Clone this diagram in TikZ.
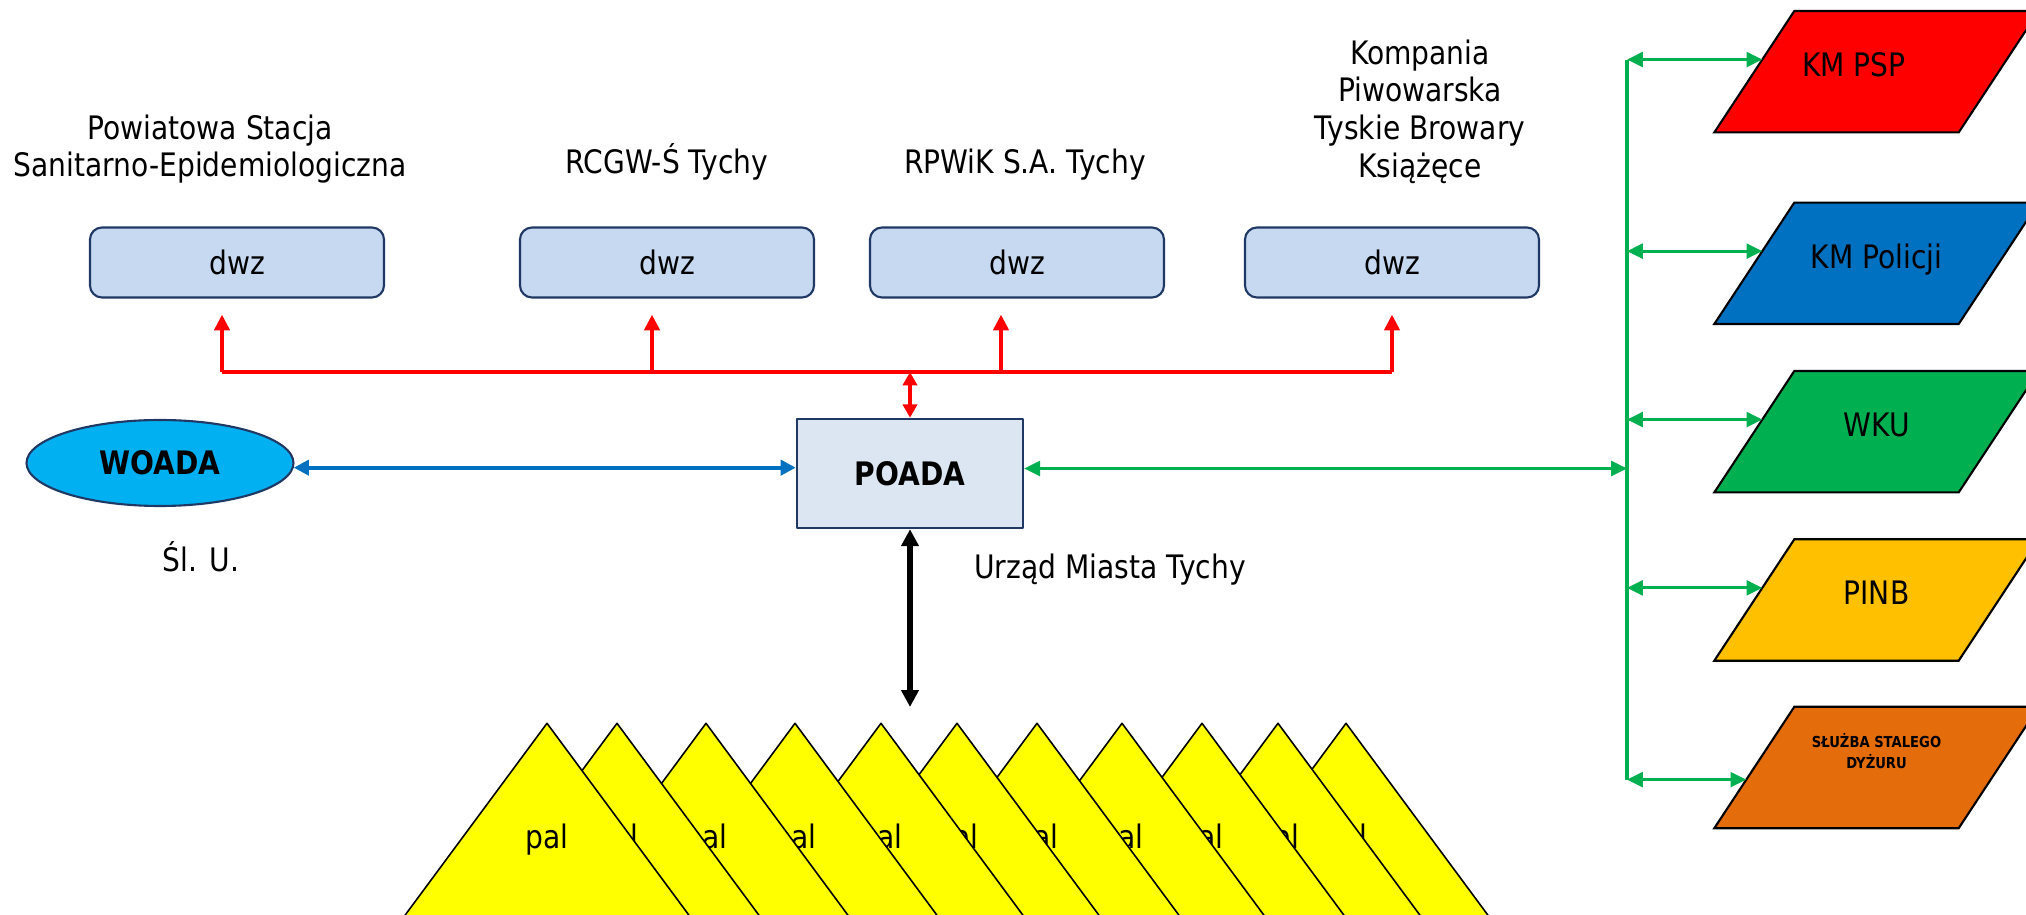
\documentclass[tikz,border=0pt]{standalone}
\usepackage{fontspec}
\setmainfont{DejaVu Sans}[FakeStretch=0.87]
\usetikzlibrary{arrows.meta}
\usetikzlibrary{shapes.geometric}
\usetikzlibrary{calc}
\usetikzlibrary{backgrounds}

\definecolor{dwzfill}{HTML}{C6D9F1}
\definecolor{poadafill}{HTML}{DCE6F2}
\definecolor{navy}{HTML}{1F3864}
\definecolor{woadafill}{HTML}{00B0F0}
\definecolor{linkblue}{HTML}{0070C0}
\definecolor{linkgreen}{HTML}{00B050}
\definecolor{pinbfill}{HTML}{FFC000}
\definecolor{ssdfill}{HTML}{E46C0A}
\definecolor{palfill}{HTML}{FFFF00}

\tikzset{
  dwzbox/.style={draw=navy,line width=0.6pt,fill=dwzfill,rounded corners=1.2mm,
    minimum width=2.94cm,minimum height=0.70cm},
  instbox/.style={inner sep=0pt,minimum width=2.43cm,minimum height=1.2cm},
  insttext/.style={text height=2.4mm,text depth=1.4mm},
  lbl/.style={align=center},
  redlink/.style={draw=red,line width=1.15pt},
  greenlink/.style={draw=linkgreen,line width=0.9pt,
    {Triangle[length=4.5pt,width=4.2pt]}-{Triangle[length=4.5pt,width=4.2pt]}},
  palside/.style={fill=palfill,draw=black,line width=0.45pt}
}

\begin{document}
\begin{tikzpicture}[line join=round,x=1.0cm,y=1.0cm,
    font=\fontsize{9.2pt}{10.7pt}\selectfont]
  \useasboundingbox (0,0) rectangle (20.26,9.15);

  % pal triangles, the left one in front
  \begin{scope}
    \clip (0,0) rectangle (20.26,9.15);
    \foreach \px [count=\i] in {13.46,12.78,12.02,11.22,10.37,9.57,8.81,7.95,7.06,6.17,5.47} {
      \filldraw[palside] (\px,1.917) -- ++(-1.79,-2.42) -- ++(3.58,0) -- cycle;
      \node (pal\i) at (\px,0.75) {pal};
    }
  \end{scope}

  % upper row
  \node[lbl] (pss) at (2.10,7.66) {Powiatowa Stacja\\Sanitarno-Epidemiologiczna};
  \node[lbl] (rcgw) at (6.67,7.53) {RCGW-Ś Tychy};
  \node[lbl] (rpwik) at (10.25,7.50) {RPWiK S.A. Tychy};
  \node[lbl] (kp) at (14.20,8.035) {Kompania\\Piwowarska\\Tyskie Browary\\Książęce};
  \node[dwzbox] (dwz1) at (2.37,6.525) {dwz};
  \node[dwzbox] (dwz2) at (6.67,6.525) {dwz};
  \node[dwzbox] (dwz3) at (10.17,6.525) {dwz};
  \node[dwzbox] (dwz4) at (13.92,6.525) {dwz};

  % middle
  \node[draw=navy,line width=0.7pt,fill=poadafill,minimum width=2.26cm,minimum height=1.09cm,
    font=\fontsize{9.2pt}{10.7pt}\selectfont\bfseries] (poada) at (9.10,4.415) {POADA};
  \node[ellipse,draw=navy,line width=0.6pt,fill=woadafill,inner sep=0pt,minimum width=2.67cm,
    minimum height=0.86cm,font=\fontsize{9.2pt}{10.7pt}\selectfont\bfseries] (woada) at (1.60,4.52) {WOADA};
  \node (slu) at (2.01,3.58) {Śl. U.};
  \node (um) at (11.10,3.45) {Urząd Miasta Tychy};

  % red links to dwz
  \coordinate (bus) at (0,5.43);
  \coordinate (r1) at ([xshift=-1.5mm,yshift=-1.6mm]dwz1.south);
  \coordinate (r2) at ([xshift=-1.5mm,yshift=-1.6mm]dwz2.south);
  \coordinate (r3) at ([xshift=-1.6mm,yshift=-1.6mm]dwz3.south);
  \coordinate (r4) at ([yshift=-1.6mm]dwz4.south);
  \draw[redlink] (r1 |- bus) -- (r4 |- bus);
  \foreach \i in {1,...,4}
    \draw[redlink,-{Triangle[length=4.5pt,width=4.3pt]}] (r\i |- bus) -- (r\i);
  \draw[redlink,{Triangle[length=3.8pt,width=4pt]}-{Triangle[length=3.8pt,width=4pt]}]
    (poada.north |- bus) -- (poada.north);

  % WOADA
  \draw[draw=linkblue,line width=1.05pt,
    {Triangle[length=4.3pt,width=4.3pt]}-{Triangle[length=4.3pt,width=4.3pt]}]
    (woada.-2) -- (woada.-2 -| poada.west);

  % pal
  \coordinate (paltop) at (poada.south |- 0,2.08);
  \draw[line width=1.9pt,{Triangle[length=4.8pt,width=4.8pt]}-{Triangle[length=4.8pt,width=4.8pt]}]
    (poada.south) -- (paltop);

  % right column
  \node[instbox,insttext] (psp) at (18.765,8.433) {KM PSP\kern4.5mm};
  \node[instbox,insttext] (pol) at (18.765,6.517) {KM Policji};
  \node[instbox,insttext] (wku) at (18.765,4.833) {WKU};
  \node[instbox,insttext] (pinb) at (18.765,3.15) {PINB};
  \node[instbox,align=center,font=\fontsize{4.3pt}{5.9pt}\selectfont\bfseries]
    (ssd) at (18.765,1.475) {SŁUŻBA STALEGO\\DYŻURU\\[1.2mm]};
  \begin{scope}[on background layer]
    \foreach \n/\c in {psp/red,pol/linkblue,wku/linkgreen,pinb/pinbfill,ssd/ssdfill}
      \filldraw[fill=\c,draw=black,line width=0.6pt]
        ([xshift=-4mm]\n.south west) -- ([xshift=-4mm]\n.south east)
        -- ([xshift=4mm]\n.north east) -- ([xshift=4mm]\n.north west) -- cycle;
  \end{scope}

  \coordinate (gx) at (16.27,0);
  \foreach \n/\t [count=\i] in {psp/0.6,pol/0.6,wku/0.6,pinb/0.6,ssd/0.4}
    \coordinate (g\i) at ($([xshift=-4mm]\n.south west)!\t!([xshift=4mm]\n.north west)$);
  \draw[draw=linkgreen,line width=0.9pt] (g1 -| gx) -- (g5 -| gx);
  \foreach \i in {1,...,5}
    \draw[greenlink] (g\i -| gx) -- (g\i);
  \draw[greenlink] ([yshift=0.5mm]poada.east) -- ([yshift=0.5mm]poada.east -| gx);
\end{tikzpicture}
\end{document}
